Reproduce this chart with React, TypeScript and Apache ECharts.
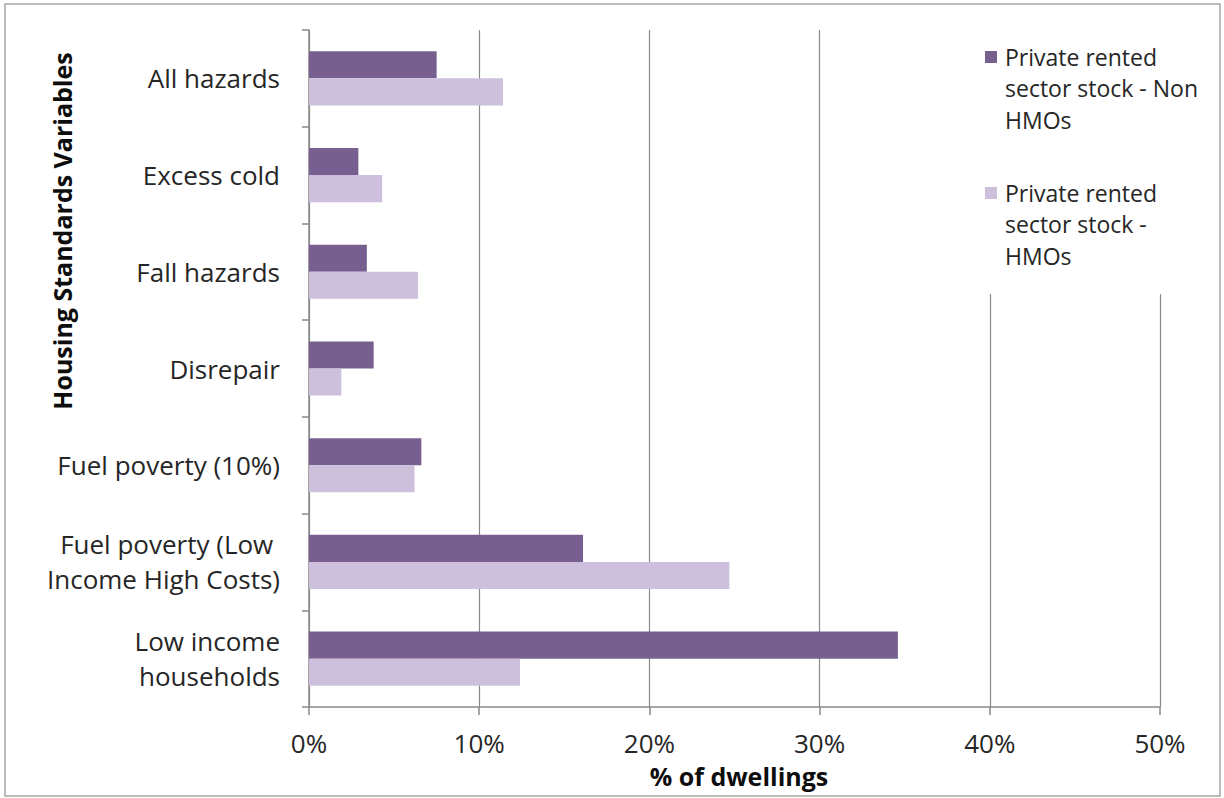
import React, { useEffect, useRef } from "react";
import * as echarts from "echarts";

const categories = [
  "All hazards",
  "Excess cold",
  "Fall hazards",
  "Disrepair",
  "Fuel poverty (10%)",
  "Fuel poverty (Low \nIncome High Costs)",
  "Low income\nhouseholds",
];
const seriesNames = [
  "Private rented\nsector stock - Non\nHMOs",
  "Private rented\nsector stock -\nHMOs",
];
const nonHmo = [7.5, 2.9, 3.4, 3.8, 6.6, 16.1, 34.6];
const hmo = [11.4, 4.3, 6.4, 1.9, 6.2, 24.7, 12.4];
const xTicks = [0, 10, 20, 30, 40, 50];

const DARK = "#77608f";
const LIGHT = "#ccc0dc";
const GRID = "#8a8a8a";
const FONT = "'Open Sans', Lato, sans-serif";

export default function App() {
  const ref = useRef<HTMLDivElement>(null);

  useEffect(() => {
    if (!ref.current) return;
    const chart = echarts.init(ref.current, undefined, { renderer: "svg" });
    chart.setOption({
      animation: false,
      backgroundColor: "#ffffff",
      textStyle: { fontFamily: FONT },
      grid: { left: 309, right: 64, top: 30, bottom: 91 },
      xAxis: {
        type: "value",
        min: xTicks[0],
        max: xTicks[xTicks.length - 1],
        interval: 10,
        axisLine: { show: true, lineStyle: { color: GRID, width: 1.5 } },
        axisTick: { show: true, length: 8, lineStyle: { color: GRID, width: 1.5 } },
        splitLine: { show: true, lineStyle: { color: GRID, width: 1.2 } },
        axisLabel: {
          formatter: "{value}%",
          fontSize: 26,
          color: "#262626",
          margin: 23,
          fontFamily: FONT,
        },
      },
      yAxis: {
        type: "category",
        data: categories,
        inverse: true,
        axisLine: { show: true, lineStyle: { color: GRID, width: 1.5 } },
        axisTick: { show: true, length: 7, lineStyle: { color: GRID, width: 1.5 } },
        axisLabel: {
          fontSize: 26,
          color: "#262626",
          margin: 29,
          lineHeight: 35,
          fontFamily: FONT,
        },
      },
      series: [
        {
          name: seriesNames[0],
          type: "bar",
          data: nonHmo,
          itemStyle: { color: DARK },
          barGap: "0%",
          barCategoryGap: "44%",
        },
        {
          name: seriesNames[1],
          type: "bar",
          data: hmo,
          itemStyle: { color: LIGHT },
          barGap: "0%",
          barCategoryGap: "44%",
        },
      ],
      graphic: [
        {
          type: "rect",
          z: 20,
          silent: true,
          shape: { x: 5, y: 4, width: 1215, height: 792 },
          style: { fill: "none", stroke: "#a6a6a6", lineWidth: 1.5 },
        },
        {
          type: "rect",
          z: 10,
          silent: true,
          shape: { x: 972, y: 28, width: 240, height: 266 },
          style: { fill: "#ffffff" },
        },
        {
          type: "rect",
          z: 11,
          shape: { x: 985, y: 51, width: 12, height: 12 },
          style: { fill: DARK },
        },
        {
          type: "text",
          z: 11,
          x: 1005,
          y: 41,
          style: {
            text: seriesNames[0],
            fontSize: 23,
            lineHeight: 31.5,
            fill: "#262626",
            fontFamily: FONT,
          },
        },
        {
          type: "rect",
          z: 11,
          shape: { x: 985, y: 187, width: 12, height: 12 },
          style: { fill: LIGHT },
        },
        {
          type: "text",
          z: 11,
          x: 1005,
          y: 177,
          style: {
            text: seriesNames[1],
            fontSize: 23,
            lineHeight: 31.5,
            fill: "#262626",
            fontFamily: FONT,
          },
        },
        {
          type: "text",
          z: 11,
          x: 62,
          y: 231,
          rotation: Math.PI / 2,
          style: {
            text: "Housing Standards Variables",
            fontSize: 25,
            fontWeight: "bold",
            fill: "#0d0d0d",
            align: "center",
            verticalAlign: "middle",
            fontFamily: FONT,
          },
        },
        {
          type: "text",
          z: 11,
          x: 739,
          y: 776,
          style: {
            text: "% of dwellings",
            fontSize: 25,
            fontWeight: "bold",
            fill: "#0d0d0d",
            align: "center",
            verticalAlign: "middle",
            fontFamily: FONT,
          },
        },
      ],
    });
    return () => chart.dispose();
  }, []);

  return (
    <div
      ref={ref}
      style={{ position: "absolute", left: 0, top: 0, width: 1224, height: 798 }}
    />
  );
}
